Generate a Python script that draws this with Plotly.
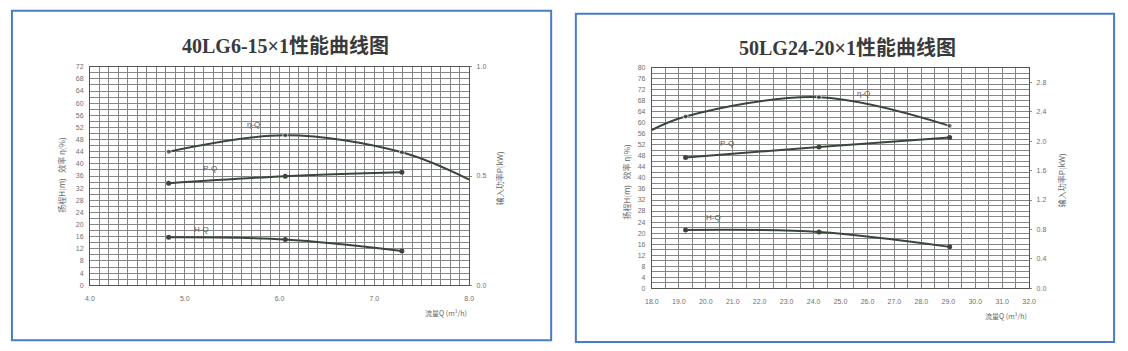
import plotly.graph_objects as go

W, H = 1128, 351

# ---------------- data ----------------
# Left chart: 40LG6-15x1
q1 = [4.83, 6.06, 7.29]
h1 = [15.8, 15.1, 11.3]
p1 = [0.467, 0.499, 0.517]
eta1_q = [4.83, 6.06, 7.29, 8.0]
eta1 = [44.0, 49.4, 43.8, 34.8]
eta1_marked = [True, True, True, False]

# Right chart: 50LG24-20x1
q2 = [19.25, 24.2, 29.05]
h2 = [21.1, 20.4, 15.0]
p2 = [1.78, 1.92, 2.05]
eta2_q = [18.0, 19.25, 24.2, 29.05]
eta2 = [57.4, 62.3, 69.3, 58.9]
eta2_marked = [False, True, True, True]

titles = ["40LG6-15×1性能曲线图", "50LG24-20×1性能曲线图"]
left_ytitle = "扬程H(m)   效率 η(%)"
right_ytitle = "输入功率P(kW)"
x_title = "流量Q (m³/h)"

y1_ticks = list(range(0, 73, 4))
y1r_ticks = [0.0, 0.5, 1.0]
x1_ticks = [4.0, 5.0, 6.0, 7.0, 8.0]
y2_ticks = list(range(0, 81, 4))
y2r_ticks = [0.0, 0.4, 0.8, 1.2, 1.6, 2.0, 2.4, 2.8]
x2_ticks = [18.0 + i for i in range(15)]

# curve labels (text, x, y)
labels1 = [("η-Q", 5.72, 53.0), ("P-Q", 5.27, 38.4), ("H-Q", 5.18, 18.4)]
labels2 = [("η-Q", 25.85, 70.5), ("P-Q", 20.8, 52.4), ("H-Q", 20.3, 25.5)]

# ---------------- styling ----------------
LINE = "#3b463b"
GRID = "#858585"
TICKC = "#6f6f6f"
TICKFONT = dict(family="Liberation Sans, Arial", size=7, color=TICKC)
CJK = "Liberation Serif, Noto Sans CJK SC"

def px_x(x):
    return x / W

def px_y(y):
    return 1 - y / H

# plot boxes in pixels
L = dict(x0=84, x1=468, y0=64, y1=287)
R = dict(x0=653, x1=1035, y0=65, y1=290)

fig = go.Figure()

def add_panel(xa, ya, yar, q, h, p, eq, ev, emark, labels):
    xs = "x" + ("" if xa == 1 else str(xa))
    ys = "y" + ("" if ya == 1 else str(ya))
    yrs = "y" + str(yar)
    fig.add_trace(go.Scatter(
        x=eq, y=ev, mode="lines+markers", line=dict(color=LINE, width=2, shape="spline", smoothing=1.0),
        marker=dict(color=LINE, size=[5 if m else 0 for m in emark]),
        xaxis=xs, yaxis=ys, showlegend=False, hoverinfo="skip"))
    fig.add_trace(go.Scatter(
        x=q, y=h, mode="lines+markers", line=dict(color=LINE, width=2, shape="spline", smoothing=1.0),
        marker=dict(color=LINE, size=5), xaxis=xs, yaxis=ys, showlegend=False, hoverinfo="skip"))
    fig.add_trace(go.Scatter(
        x=q, y=p, mode="lines+markers", line=dict(color=LINE, width=2, shape="spline", smoothing=1.0),
        marker=dict(color=LINE, size=5), xaxis=xs, yaxis=yrs, showlegend=False, hoverinfo="skip"))
    for t, lx, ly in labels:
        fig.add_annotation(x=lx, y=ly, xref=xs, yref=ys, text=t, showarrow=False,
                           font=dict(family="Liberation Sans, Arial", size=8, color="#555"))

add_panel(1, 1, 2, q1, h1, p1, eta1_q, eta1, eta1_marked, labels1)
add_panel(2, 3, 4, q2, h2, p2, eta2_q, eta2, eta2_marked, labels2)

def xaxis_cfg(box, rng, ticks, minor):
    return dict(domain=[px_x(box["x0"]), px_x(box["x1"])], range=rng, tickvals=ticks,
                tickformat=".1f", tickfont=TICKFONT, showgrid=True, gridcolor=GRID, gridwidth=1,
                minor=dict(dtick=minor, tick0=0, showgrid=True, gridcolor=GRID, gridwidth=1),
                showline=True, linecolor="#555", linewidth=1, mirror=True, zeroline=False,
                ticks="", ticklabelstandoff=6, fixedrange=True)

def yaxis_cfg(box, rng, ticks, minor, anchor):
    return dict(domain=[px_y(box["y1"]), px_y(box["y0"])], range=rng, tickvals=ticks,
                tickfont=TICKFONT, showgrid=True, gridcolor=GRID, gridwidth=1,
                minor=dict(dtick=minor, tick0=0, showgrid=True, gridcolor=GRID, gridwidth=1),
                showline=True, linecolor="#555", linewidth=1, mirror=True, zeroline=False,
                ticks="", ticklabelstandoff=4, anchor=anchor, fixedrange=True)

def yaxis_right_cfg(rng, ticks, overlay, anchor, fmt):
    return dict(overlaying=overlay, side="right", anchor=anchor, range=rng, tickvals=ticks,
                tickformat=fmt, tickfont=TICKFONT, showgrid=False, zeroline=False,
                showline=False, ticks="outside", ticklen=2, tickcolor="#888",
                ticklabelstandoff=3, fixedrange=True)

fig.update_layout(
    width=W, height=H, autosize=False,
    margin=dict(l=0, r=0, t=0, b=0, pad=0),
    paper_bgcolor="white", plot_bgcolor="white",
    xaxis=xaxis_cfg(L, [4.0, 8.0], x1_ticks, 0.1) | dict(anchor="y"),
    yaxis=yaxis_cfg(L, [0, 72], y1_ticks, 2, "x"),
    yaxis2=yaxis_right_cfg([0, 1.0], y1r_ticks, "y", "x", ".1f"),
    xaxis2=xaxis_cfg(R, [18.0, 32.0], x2_ticks, 0.5) | dict(anchor="y3"),
    yaxis3=yaxis_cfg(R, [0, 80], y2_ticks, 2, "x2"),
    yaxis4=yaxis_right_cfg([0, 3.0], y2r_ticks, "y3", "x2", ".1f"),
)

# panel frames
fig.add_shape(type="rect", xref="paper", yref="paper", x0=px_x(5), x1=px_x(551), y0=px_y(343), y1=px_y(7),
              line=dict(color="#4a7cc6", width=2), fillcolor="rgba(0,0,0,0)", layer="below")
fig.add_shape(type="rect", xref="paper", yref="paper", x0=px_x(576), x1=px_x(1121), y0=px_y(345), y1=px_y(10),
              line=dict(color="#4a7cc6", width=2), fillcolor="rgba(0,0,0,0)", layer="below")

# titles
for t, cx, cy in [(titles[0], 282, 43), (titles[1], 851, 45)]:
    fig.add_annotation(x=px_x(cx), y=px_y(cy), xref="paper", yref="paper", text="<b>" + t + "</b>",
                       showarrow=False, xanchor="center", yanchor="middle",
                       font=dict(family=CJK, size=20, color="#3a3a3a"))

# axis titles
for cx, cy, t in [(55, 175, left_ytitle), (627, 182, left_ytitle),
                  (499, 178, right_ytitle), (1068, 180, right_ytitle)]:
    fig.add_annotation(x=px_x(cx), y=px_y(cy), xref="paper", yref="paper", text=t, textangle=-90,
                       showarrow=False, xanchor="center", yanchor="middle",
                       font=dict(family="Noto Sans CJK SC", size=8, color="#666"))

for rx, cy in [(468, 315), (1035, 318)]:
    fig.add_annotation(x=px_x(rx), y=px_y(cy), xref="paper", yref="paper", text=x_title,
                       showarrow=False, xanchor="right", yanchor="middle",
                       font=dict(family="Noto Sans CJK SC", size=7, color="#666"))

fig.write_html("out.html")
